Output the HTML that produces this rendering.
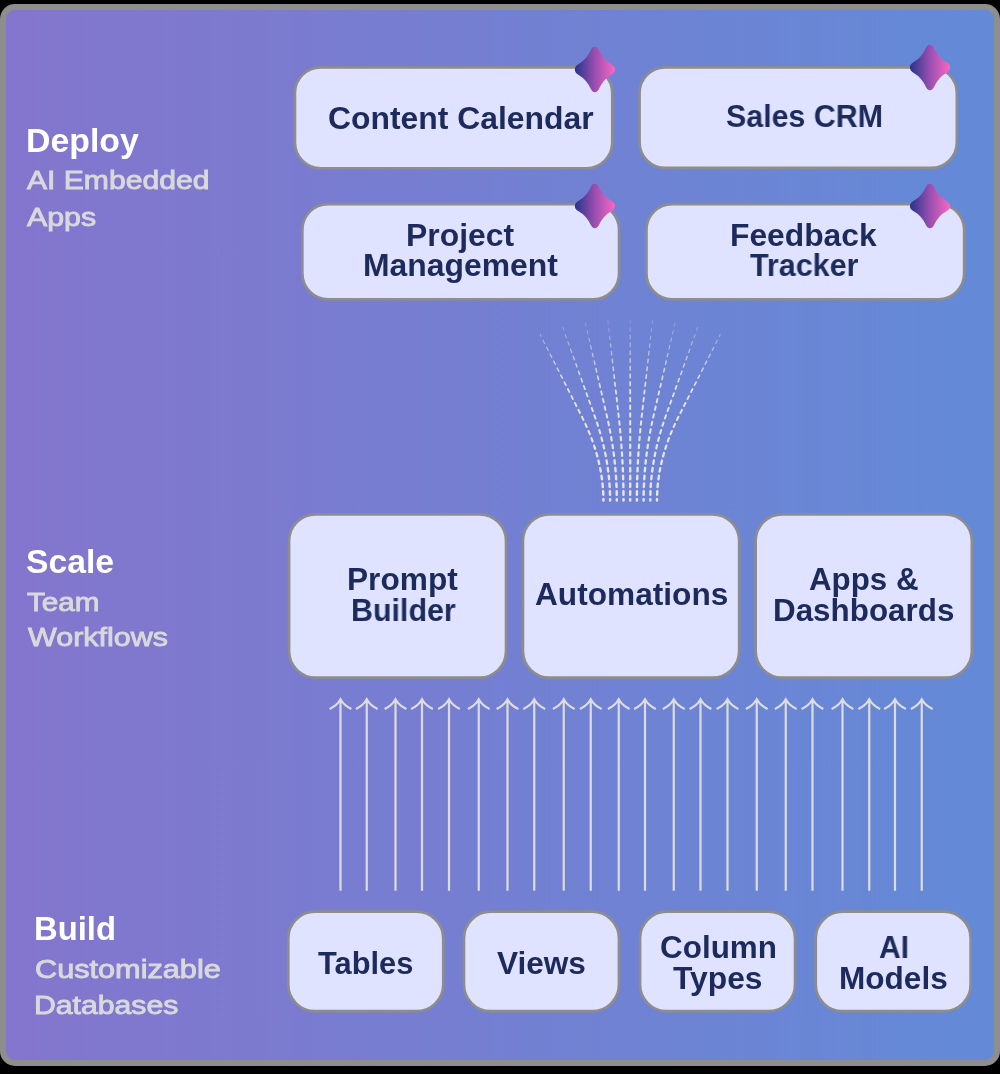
<!DOCTYPE html>
<html><head><meta charset="utf-8"><title>Build Scale Deploy</title>
<style>
html,body{margin:0;padding:0;background:#000;}
body{width:1000px;height:1074px;position:relative;overflow:hidden;font-family:"Liberation Sans",sans-serif;}
#frame{position:absolute;left:0;top:4px;width:1000px;height:1062px;box-sizing:border-box;border:6px solid #8e8e8e;border-radius:15px;background:linear-gradient(90deg,#8475cd 0%,#638ad7 100%);background-clip:border-box;}
#bg{position:absolute;left:6px;top:10px;width:988px;height:1050px;border-radius:11px;background:linear-gradient(90deg,#8475cd 0%,#638ad7 100%);}
.t{position:absolute;will-change:transform;white-space:nowrap;line-height:1;transform-origin:0 0;margin:0;}
svg{position:absolute;left:0;top:0;}
</style></head><body>
<div id="frame"></div><div id="bg"></div>

<svg width="1000" height="1074" viewBox="0 0 1000 1074">
<defs><linearGradient id="sg" gradientUnits="userSpaceOnUse" x1="-20" y1="0" x2="20" y2="0"><stop offset="0" stop-color="#27348b"/><stop offset="0.5" stop-color="#9a4fb0"/><stop offset="1" stop-color="#fa66c3"/></linearGradient></defs>
<g fill="#e0e3ff" stroke="#8d8d8d" stroke-width="2.7">
<rect x="294.95" y="67.35" width="317.30" height="100.90" rx="25.65"/>
<rect x="639.55" y="67.35" width="317.30" height="100.60" rx="25.65"/>
<rect x="302.35" y="204.15" width="316.70" height="95.10" rx="25.65"/>
<rect x="646.45" y="204.15" width="317.70" height="95.10" rx="25.65"/>
<rect x="289.05" y="514.35" width="217.00" height="163.30" rx="26.65"/>
<rect x="522.95" y="514.35" width="216.20" height="163.30" rx="26.65"/>
<rect x="755.65" y="514.35" width="216.20" height="163.30" rx="26.65"/>
<rect x="288.25" y="911.65" width="155.00" height="99.50" rx="26.65"/>
<rect x="463.95" y="911.65" width="155.00" height="99.50" rx="26.65"/>
<rect x="640.05" y="911.65" width="155.00" height="99.50" rx="26.65"/>
<rect x="815.75" y="911.65" width="154.90" height="99.50" rx="26.65"/>
</g>
<g stroke="#e6e4dd" fill="none" stroke-linecap="round">
<line x1="603.40" y1="500.50" x2="603.39" y2="499.10" stroke-width="2.45" stroke-opacity="1.00"/>
<line x1="603.30" y1="494.80" x2="603.13" y2="491.31" stroke-width="2.44" stroke-opacity="1.00"/>
<line x1="602.83" y1="487.02" x2="602.49" y2="483.53" stroke-width="2.41" stroke-opacity="1.00"/>
<line x1="601.98" y1="479.26" x2="601.48" y2="475.80" stroke-width="2.38" stroke-opacity="1.00"/>
<line x1="600.78" y1="471.56" x2="600.12" y2="468.12" stroke-width="2.34" stroke-opacity="1.00"/>
<line x1="599.22" y1="463.91" x2="598.41" y2="460.51" stroke-width="2.30" stroke-opacity="1.00"/>
<line x1="597.33" y1="456.35" x2="596.38" y2="452.98" stroke-width="2.25" stroke-opacity="1.00"/>
<line x1="595.13" y1="448.87" x2="594.04" y2="445.54" stroke-width="2.20" stroke-opacity="1.00"/>
<line x1="592.63" y1="441.48" x2="591.41" y2="438.20" stroke-width="2.14" stroke-opacity="1.00"/>
<line x1="589.84" y1="434.19" x2="588.51" y2="430.96" stroke-width="2.09" stroke-opacity="1.00"/>
<line x1="586.80" y1="427.01" x2="585.35" y2="423.83" stroke-width="2.03" stroke-opacity="1.00"/>
<line x1="583.51" y1="419.94" x2="581.95" y2="416.80" stroke-width="1.97" stroke-opacity="1.00"/>
<line x1="580.01" y1="412.97" x2="578.42" y2="409.85" stroke-width="1.90" stroke-opacity="1.00"/>
<line x1="576.47" y1="406.02" x2="574.89" y2="402.90" stroke-width="1.84" stroke-opacity="1.00"/>
<line x1="572.94" y1="399.06" x2="571.35" y2="395.94" stroke-width="1.77" stroke-opacity="1.00"/>
<line x1="569.41" y1="392.11" x2="567.82" y2="388.99" stroke-width="1.70" stroke-opacity="1.00"/>
<line x1="565.87" y1="385.16" x2="564.29" y2="382.04" stroke-width="1.63" stroke-opacity="0.95"/>
<line x1="562.34" y1="378.20" x2="560.75" y2="375.08" stroke-width="1.56" stroke-opacity="0.89"/>
<line x1="558.80" y1="371.25" x2="557.22" y2="368.13" stroke-width="1.48" stroke-opacity="0.82"/>
<line x1="555.27" y1="364.29" x2="553.68" y2="361.17" stroke-width="1.40" stroke-opacity="0.74"/>
<line x1="551.74" y1="357.34" x2="550.15" y2="354.22" stroke-width="1.32" stroke-opacity="0.67"/>
<line x1="548.20" y1="350.39" x2="546.62" y2="347.27" stroke-width="1.24" stroke-opacity="0.59"/>
<line x1="544.67" y1="343.43" x2="543.08" y2="340.31" stroke-width="1.15" stroke-opacity="0.50"/>
<line x1="541.14" y1="336.48" x2="540.20" y2="334.64" stroke-width="1.07" stroke-opacity="0.42"/>
<line x1="610.10" y1="500.50" x2="610.10" y2="499.10" stroke-width="2.45" stroke-opacity="1.00"/>
<line x1="610.03" y1="494.80" x2="609.91" y2="491.30" stroke-width="2.44" stroke-opacity="1.00"/>
<line x1="609.69" y1="487.01" x2="609.46" y2="483.52" stroke-width="2.41" stroke-opacity="1.00"/>
<line x1="609.09" y1="479.23" x2="608.74" y2="475.75" stroke-width="2.38" stroke-opacity="1.00"/>
<line x1="608.23" y1="471.48" x2="607.76" y2="468.01" stroke-width="2.34" stroke-opacity="1.00"/>
<line x1="607.11" y1="463.76" x2="606.53" y2="460.31" stroke-width="2.30" stroke-opacity="1.00"/>
<line x1="605.75" y1="456.08" x2="605.06" y2="452.65" stroke-width="2.25" stroke-opacity="1.00"/>
<line x1="604.14" y1="448.45" x2="603.35" y2="445.04" stroke-width="2.19" stroke-opacity="1.00"/>
<line x1="602.31" y1="440.87" x2="601.41" y2="437.48" stroke-width="2.14" stroke-opacity="1.00"/>
<line x1="600.25" y1="433.34" x2="599.26" y2="429.99" stroke-width="2.08" stroke-opacity="1.00"/>
<line x1="597.98" y1="425.88" x2="596.89" y2="422.56" stroke-width="2.02" stroke-opacity="1.00"/>
<line x1="595.50" y1="418.49" x2="594.33" y2="415.19" stroke-width="1.95" stroke-opacity="1.00"/>
<line x1="592.87" y1="411.14" x2="591.68" y2="407.85" stroke-width="1.89" stroke-opacity="1.00"/>
<line x1="590.23" y1="403.81" x2="589.04" y2="400.51" stroke-width="1.82" stroke-opacity="1.00"/>
<line x1="587.58" y1="396.47" x2="586.40" y2="393.17" stroke-width="1.74" stroke-opacity="1.00"/>
<line x1="584.94" y1="389.13" x2="583.76" y2="385.84" stroke-width="1.67" stroke-opacity="0.98"/>
<line x1="582.30" y1="381.79" x2="581.11" y2="378.50" stroke-width="1.59" stroke-opacity="0.92"/>
<line x1="579.66" y1="374.45" x2="578.47" y2="371.16" stroke-width="1.51" stroke-opacity="0.85"/>
<line x1="577.01" y1="367.11" x2="575.83" y2="363.82" stroke-width="1.43" stroke-opacity="0.77"/>
<line x1="574.37" y1="359.77" x2="573.19" y2="356.48" stroke-width="1.35" stroke-opacity="0.69"/>
<line x1="571.73" y1="352.43" x2="570.54" y2="349.14" stroke-width="1.26" stroke-opacity="0.61"/>
<line x1="569.09" y1="345.10" x2="567.90" y2="341.80" stroke-width="1.17" stroke-opacity="0.52"/>
<line x1="566.44" y1="337.76" x2="565.26" y2="334.46" stroke-width="1.08" stroke-opacity="0.43"/>
<line x1="563.80" y1="330.42" x2="562.70" y2="327.36" stroke-width="0.99" stroke-opacity="0.34"/>
<line x1="616.80" y1="500.50" x2="616.80" y2="499.10" stroke-width="2.45" stroke-opacity="1.00"/>
<line x1="616.75" y1="494.80" x2="616.68" y2="491.30" stroke-width="2.44" stroke-opacity="1.00"/>
<line x1="616.54" y1="487.00" x2="616.39" y2="483.51" stroke-width="2.41" stroke-opacity="1.00"/>
<line x1="616.15" y1="479.21" x2="615.92" y2="475.72" stroke-width="2.38" stroke-opacity="1.00"/>
<line x1="615.60" y1="471.43" x2="615.29" y2="467.95" stroke-width="2.34" stroke-opacity="1.00"/>
<line x1="614.88" y1="463.67" x2="614.50" y2="460.19" stroke-width="2.29" stroke-opacity="1.00"/>
<line x1="613.99" y1="455.92" x2="613.54" y2="452.45" stroke-width="2.25" stroke-opacity="1.00"/>
<line x1="612.94" y1="448.19" x2="612.42" y2="444.73" stroke-width="2.19" stroke-opacity="1.00"/>
<line x1="611.74" y1="440.48" x2="611.15" y2="437.03" stroke-width="2.14" stroke-opacity="1.00"/>
<line x1="610.38" y1="432.80" x2="609.72" y2="429.36" stroke-width="2.07" stroke-opacity="1.00"/>
<line x1="608.87" y1="425.15" x2="608.15" y2="421.72" stroke-width="2.01" stroke-opacity="1.00"/>
<line x1="607.22" y1="417.53" x2="606.43" y2="414.11" stroke-width="1.94" stroke-opacity="1.00"/>
<line x1="605.47" y1="409.92" x2="604.68" y2="406.51" stroke-width="1.87" stroke-opacity="1.00"/>
<line x1="603.71" y1="402.32" x2="602.92" y2="398.91" stroke-width="1.80" stroke-opacity="1.00"/>
<line x1="601.96" y1="394.72" x2="601.17" y2="391.31" stroke-width="1.73" stroke-opacity="1.00"/>
<line x1="600.20" y1="387.12" x2="599.41" y2="383.71" stroke-width="1.65" stroke-opacity="0.96"/>
<line x1="598.45" y1="379.52" x2="597.66" y2="376.11" stroke-width="1.57" stroke-opacity="0.90"/>
<line x1="596.69" y1="371.92" x2="595.90" y2="368.51" stroke-width="1.48" stroke-opacity="0.82"/>
<line x1="594.94" y1="364.32" x2="594.15" y2="360.91" stroke-width="1.40" stroke-opacity="0.74"/>
<line x1="593.18" y1="356.72" x2="592.39" y2="353.31" stroke-width="1.31" stroke-opacity="0.66"/>
<line x1="591.43" y1="349.12" x2="590.64" y2="345.71" stroke-width="1.22" stroke-opacity="0.57"/>
<line x1="589.67" y1="341.52" x2="588.88" y2="338.11" stroke-width="1.13" stroke-opacity="0.48"/>
<line x1="587.92" y1="333.92" x2="587.13" y2="330.51" stroke-width="1.03" stroke-opacity="0.38"/>
<line x1="586.16" y1="326.33" x2="585.37" y2="322.91" stroke-width="0.94" stroke-opacity="0.29"/>
<line x1="623.50" y1="500.50" x2="623.50" y2="499.10" stroke-width="2.45" stroke-opacity="1.00"/>
<line x1="623.48" y1="494.80" x2="623.44" y2="491.30" stroke-width="2.44" stroke-opacity="1.00"/>
<line x1="623.37" y1="487.00" x2="623.30" y2="483.50" stroke-width="2.41" stroke-opacity="1.00"/>
<line x1="623.18" y1="479.20" x2="623.07" y2="475.70" stroke-width="2.38" stroke-opacity="1.00"/>
<line x1="622.91" y1="471.41" x2="622.76" y2="467.91" stroke-width="2.34" stroke-opacity="1.00"/>
<line x1="622.56" y1="463.62" x2="622.37" y2="460.12" stroke-width="2.29" stroke-opacity="1.00"/>
<line x1="622.12" y1="455.83" x2="621.90" y2="452.34" stroke-width="2.24" stroke-opacity="1.00"/>
<line x1="621.60" y1="448.05" x2="621.35" y2="444.55" stroke-width="2.19" stroke-opacity="1.00"/>
<line x1="621.01" y1="440.27" x2="620.72" y2="436.78" stroke-width="2.13" stroke-opacity="1.00"/>
<line x1="620.33" y1="432.50" x2="620.01" y2="429.01" stroke-width="2.07" stroke-opacity="1.00"/>
<line x1="619.58" y1="424.73" x2="619.22" y2="421.25" stroke-width="2.01" stroke-opacity="1.00"/>
<line x1="618.76" y1="416.98" x2="618.36" y2="413.50" stroke-width="1.94" stroke-opacity="1.00"/>
<line x1="617.88" y1="409.23" x2="617.49" y2="405.75" stroke-width="1.87" stroke-opacity="1.00"/>
<line x1="617.01" y1="401.48" x2="616.61" y2="398.00" stroke-width="1.79" stroke-opacity="1.00"/>
<line x1="616.13" y1="393.73" x2="615.74" y2="390.25" stroke-width="1.72" stroke-opacity="1.00"/>
<line x1="615.26" y1="385.97" x2="614.86" y2="382.50" stroke-width="1.64" stroke-opacity="0.95"/>
<line x1="614.38" y1="378.22" x2="613.99" y2="374.75" stroke-width="1.55" stroke-opacity="0.88"/>
<line x1="613.51" y1="370.47" x2="613.11" y2="367.00" stroke-width="1.47" stroke-opacity="0.81"/>
<line x1="612.63" y1="362.72" x2="612.24" y2="359.24" stroke-width="1.38" stroke-opacity="0.72"/>
<line x1="611.76" y1="354.97" x2="611.36" y2="351.49" stroke-width="1.29" stroke-opacity="0.64"/>
<line x1="610.88" y1="347.22" x2="610.49" y2="343.74" stroke-width="1.20" stroke-opacity="0.55"/>
<line x1="610.01" y1="339.47" x2="609.61" y2="335.99" stroke-width="1.10" stroke-opacity="0.45"/>
<line x1="609.13" y1="331.72" x2="608.74" y2="328.24" stroke-width="1.00" stroke-opacity="0.35"/>
<line x1="608.26" y1="323.97" x2="607.86" y2="320.49" stroke-width="0.91" stroke-opacity="0.26"/>
<line x1="630.20" y1="500.50" x2="630.20" y2="499.10" stroke-width="2.45" stroke-opacity="1.00"/>
<line x1="630.20" y1="494.80" x2="630.20" y2="491.30" stroke-width="2.44" stroke-opacity="1.00"/>
<line x1="630.20" y1="487.00" x2="630.20" y2="483.50" stroke-width="2.41" stroke-opacity="1.00"/>
<line x1="630.20" y1="479.20" x2="630.20" y2="475.70" stroke-width="2.38" stroke-opacity="1.00"/>
<line x1="630.20" y1="471.40" x2="630.20" y2="467.90" stroke-width="2.34" stroke-opacity="1.00"/>
<line x1="630.20" y1="463.60" x2="630.20" y2="460.10" stroke-width="2.29" stroke-opacity="1.00"/>
<line x1="630.20" y1="455.80" x2="630.20" y2="452.30" stroke-width="2.24" stroke-opacity="1.00"/>
<line x1="630.20" y1="448.00" x2="630.20" y2="444.50" stroke-width="2.19" stroke-opacity="1.00"/>
<line x1="630.20" y1="440.20" x2="630.20" y2="436.70" stroke-width="2.13" stroke-opacity="1.00"/>
<line x1="630.20" y1="432.40" x2="630.20" y2="428.90" stroke-width="2.07" stroke-opacity="1.00"/>
<line x1="630.20" y1="424.60" x2="630.20" y2="421.10" stroke-width="2.01" stroke-opacity="1.00"/>
<line x1="630.20" y1="416.80" x2="630.20" y2="413.30" stroke-width="1.94" stroke-opacity="1.00"/>
<line x1="630.20" y1="409.00" x2="630.20" y2="405.50" stroke-width="1.87" stroke-opacity="1.00"/>
<line x1="630.20" y1="401.20" x2="630.20" y2="397.70" stroke-width="1.79" stroke-opacity="1.00"/>
<line x1="630.20" y1="393.40" x2="630.20" y2="389.90" stroke-width="1.71" stroke-opacity="1.00"/>
<line x1="630.20" y1="385.60" x2="630.20" y2="382.10" stroke-width="1.63" stroke-opacity="0.95"/>
<line x1="630.20" y1="377.80" x2="630.20" y2="374.30" stroke-width="1.55" stroke-opacity="0.88"/>
<line x1="630.20" y1="370.00" x2="630.20" y2="366.50" stroke-width="1.46" stroke-opacity="0.80"/>
<line x1="630.20" y1="362.20" x2="630.20" y2="358.70" stroke-width="1.37" stroke-opacity="0.72"/>
<line x1="630.20" y1="354.40" x2="630.20" y2="350.90" stroke-width="1.28" stroke-opacity="0.63"/>
<line x1="630.20" y1="346.60" x2="630.20" y2="343.10" stroke-width="1.19" stroke-opacity="0.54"/>
<line x1="630.20" y1="338.80" x2="630.20" y2="335.30" stroke-width="1.09" stroke-opacity="0.44"/>
<line x1="630.20" y1="331.00" x2="630.20" y2="327.50" stroke-width="1.00" stroke-opacity="0.35"/>
<line x1="630.20" y1="323.20" x2="630.20" y2="319.70" stroke-width="0.90" stroke-opacity="0.25"/>
<line x1="636.90" y1="500.50" x2="636.90" y2="499.10" stroke-width="2.45" stroke-opacity="1.00"/>
<line x1="636.92" y1="494.80" x2="636.96" y2="491.30" stroke-width="2.44" stroke-opacity="1.00"/>
<line x1="637.03" y1="487.00" x2="637.10" y2="483.50" stroke-width="2.41" stroke-opacity="1.00"/>
<line x1="637.22" y1="479.20" x2="637.33" y2="475.70" stroke-width="2.38" stroke-opacity="1.00"/>
<line x1="637.49" y1="471.41" x2="637.64" y2="467.91" stroke-width="2.34" stroke-opacity="1.00"/>
<line x1="637.84" y1="463.62" x2="638.03" y2="460.12" stroke-width="2.29" stroke-opacity="1.00"/>
<line x1="638.28" y1="455.83" x2="638.50" y2="452.34" stroke-width="2.24" stroke-opacity="1.00"/>
<line x1="638.80" y1="448.05" x2="639.05" y2="444.55" stroke-width="2.19" stroke-opacity="1.00"/>
<line x1="639.39" y1="440.27" x2="639.68" y2="436.78" stroke-width="2.13" stroke-opacity="1.00"/>
<line x1="640.07" y1="432.50" x2="640.39" y2="429.01" stroke-width="2.07" stroke-opacity="1.00"/>
<line x1="640.82" y1="424.73" x2="641.18" y2="421.25" stroke-width="2.01" stroke-opacity="1.00"/>
<line x1="641.64" y1="416.98" x2="642.04" y2="413.50" stroke-width="1.94" stroke-opacity="1.00"/>
<line x1="642.52" y1="409.23" x2="642.91" y2="405.75" stroke-width="1.87" stroke-opacity="1.00"/>
<line x1="643.39" y1="401.48" x2="643.79" y2="398.00" stroke-width="1.79" stroke-opacity="1.00"/>
<line x1="644.27" y1="393.73" x2="644.66" y2="390.25" stroke-width="1.72" stroke-opacity="1.00"/>
<line x1="645.14" y1="385.97" x2="645.54" y2="382.50" stroke-width="1.64" stroke-opacity="0.95"/>
<line x1="646.02" y1="378.22" x2="646.41" y2="374.75" stroke-width="1.55" stroke-opacity="0.88"/>
<line x1="646.89" y1="370.47" x2="647.29" y2="367.00" stroke-width="1.47" stroke-opacity="0.81"/>
<line x1="647.77" y1="362.72" x2="648.16" y2="359.24" stroke-width="1.38" stroke-opacity="0.72"/>
<line x1="648.64" y1="354.97" x2="649.04" y2="351.49" stroke-width="1.29" stroke-opacity="0.64"/>
<line x1="649.52" y1="347.22" x2="649.91" y2="343.74" stroke-width="1.20" stroke-opacity="0.55"/>
<line x1="650.39" y1="339.47" x2="650.79" y2="335.99" stroke-width="1.10" stroke-opacity="0.45"/>
<line x1="651.27" y1="331.72" x2="651.66" y2="328.24" stroke-width="1.00" stroke-opacity="0.35"/>
<line x1="652.14" y1="323.97" x2="652.54" y2="320.49" stroke-width="0.91" stroke-opacity="0.26"/>
<line x1="643.60" y1="500.50" x2="643.60" y2="499.10" stroke-width="2.45" stroke-opacity="1.00"/>
<line x1="643.65" y1="494.80" x2="643.72" y2="491.30" stroke-width="2.44" stroke-opacity="1.00"/>
<line x1="643.86" y1="487.00" x2="644.01" y2="483.51" stroke-width="2.41" stroke-opacity="1.00"/>
<line x1="644.25" y1="479.21" x2="644.48" y2="475.72" stroke-width="2.38" stroke-opacity="1.00"/>
<line x1="644.80" y1="471.43" x2="645.11" y2="467.95" stroke-width="2.34" stroke-opacity="1.00"/>
<line x1="645.52" y1="463.67" x2="645.90" y2="460.19" stroke-width="2.29" stroke-opacity="1.00"/>
<line x1="646.41" y1="455.92" x2="646.86" y2="452.45" stroke-width="2.25" stroke-opacity="1.00"/>
<line x1="647.46" y1="448.19" x2="647.98" y2="444.73" stroke-width="2.19" stroke-opacity="1.00"/>
<line x1="648.66" y1="440.48" x2="649.25" y2="437.03" stroke-width="2.14" stroke-opacity="1.00"/>
<line x1="650.02" y1="432.80" x2="650.68" y2="429.36" stroke-width="2.07" stroke-opacity="1.00"/>
<line x1="651.53" y1="425.15" x2="652.25" y2="421.72" stroke-width="2.01" stroke-opacity="1.00"/>
<line x1="653.18" y1="417.53" x2="653.97" y2="414.11" stroke-width="1.94" stroke-opacity="1.00"/>
<line x1="654.93" y1="409.92" x2="655.72" y2="406.51" stroke-width="1.87" stroke-opacity="1.00"/>
<line x1="656.69" y1="402.32" x2="657.48" y2="398.91" stroke-width="1.80" stroke-opacity="1.00"/>
<line x1="658.44" y1="394.72" x2="659.23" y2="391.31" stroke-width="1.73" stroke-opacity="1.00"/>
<line x1="660.20" y1="387.12" x2="660.99" y2="383.71" stroke-width="1.65" stroke-opacity="0.96"/>
<line x1="661.95" y1="379.52" x2="662.74" y2="376.11" stroke-width="1.57" stroke-opacity="0.90"/>
<line x1="663.71" y1="371.92" x2="664.50" y2="368.51" stroke-width="1.48" stroke-opacity="0.82"/>
<line x1="665.46" y1="364.32" x2="666.25" y2="360.91" stroke-width="1.40" stroke-opacity="0.74"/>
<line x1="667.22" y1="356.72" x2="668.01" y2="353.31" stroke-width="1.31" stroke-opacity="0.66"/>
<line x1="668.97" y1="349.12" x2="669.76" y2="345.71" stroke-width="1.22" stroke-opacity="0.57"/>
<line x1="670.73" y1="341.52" x2="671.52" y2="338.11" stroke-width="1.13" stroke-opacity="0.48"/>
<line x1="672.48" y1="333.92" x2="673.27" y2="330.51" stroke-width="1.03" stroke-opacity="0.38"/>
<line x1="674.24" y1="326.33" x2="675.03" y2="322.91" stroke-width="0.94" stroke-opacity="0.29"/>
<line x1="650.30" y1="500.50" x2="650.30" y2="499.10" stroke-width="2.45" stroke-opacity="1.00"/>
<line x1="650.37" y1="494.80" x2="650.49" y2="491.30" stroke-width="2.44" stroke-opacity="1.00"/>
<line x1="650.71" y1="487.01" x2="650.94" y2="483.52" stroke-width="2.41" stroke-opacity="1.00"/>
<line x1="651.31" y1="479.23" x2="651.66" y2="475.75" stroke-width="2.38" stroke-opacity="1.00"/>
<line x1="652.17" y1="471.48" x2="652.64" y2="468.01" stroke-width="2.34" stroke-opacity="1.00"/>
<line x1="653.29" y1="463.76" x2="653.87" y2="460.31" stroke-width="2.30" stroke-opacity="1.00"/>
<line x1="654.65" y1="456.08" x2="655.34" y2="452.65" stroke-width="2.25" stroke-opacity="1.00"/>
<line x1="656.26" y1="448.45" x2="657.05" y2="445.04" stroke-width="2.19" stroke-opacity="1.00"/>
<line x1="658.09" y1="440.87" x2="658.99" y2="437.48" stroke-width="2.14" stroke-opacity="1.00"/>
<line x1="660.15" y1="433.34" x2="661.14" y2="429.99" stroke-width="2.08" stroke-opacity="1.00"/>
<line x1="662.42" y1="425.88" x2="663.51" y2="422.56" stroke-width="2.02" stroke-opacity="1.00"/>
<line x1="664.90" y1="418.49" x2="666.07" y2="415.19" stroke-width="1.95" stroke-opacity="1.00"/>
<line x1="667.53" y1="411.14" x2="668.72" y2="407.85" stroke-width="1.89" stroke-opacity="1.00"/>
<line x1="670.17" y1="403.81" x2="671.36" y2="400.51" stroke-width="1.82" stroke-opacity="1.00"/>
<line x1="672.82" y1="396.47" x2="674.00" y2="393.17" stroke-width="1.74" stroke-opacity="1.00"/>
<line x1="675.46" y1="389.13" x2="676.64" y2="385.84" stroke-width="1.67" stroke-opacity="0.98"/>
<line x1="678.10" y1="381.79" x2="679.29" y2="378.50" stroke-width="1.59" stroke-opacity="0.92"/>
<line x1="680.74" y1="374.45" x2="681.93" y2="371.16" stroke-width="1.51" stroke-opacity="0.85"/>
<line x1="683.39" y1="367.11" x2="684.57" y2="363.82" stroke-width="1.43" stroke-opacity="0.77"/>
<line x1="686.03" y1="359.77" x2="687.21" y2="356.48" stroke-width="1.35" stroke-opacity="0.69"/>
<line x1="688.67" y1="352.43" x2="689.86" y2="349.14" stroke-width="1.26" stroke-opacity="0.61"/>
<line x1="691.31" y1="345.10" x2="692.50" y2="341.80" stroke-width="1.17" stroke-opacity="0.52"/>
<line x1="693.96" y1="337.76" x2="695.14" y2="334.46" stroke-width="1.08" stroke-opacity="0.43"/>
<line x1="696.60" y1="330.42" x2="697.70" y2="327.36" stroke-width="0.99" stroke-opacity="0.34"/>
<line x1="657.00" y1="500.50" x2="657.01" y2="499.10" stroke-width="2.45" stroke-opacity="1.00"/>
<line x1="657.10" y1="494.80" x2="657.27" y2="491.31" stroke-width="2.44" stroke-opacity="1.00"/>
<line x1="657.57" y1="487.02" x2="657.91" y2="483.53" stroke-width="2.41" stroke-opacity="1.00"/>
<line x1="658.42" y1="479.26" x2="658.92" y2="475.80" stroke-width="2.38" stroke-opacity="1.00"/>
<line x1="659.62" y1="471.56" x2="660.28" y2="468.12" stroke-width="2.34" stroke-opacity="1.00"/>
<line x1="661.18" y1="463.91" x2="661.99" y2="460.51" stroke-width="2.30" stroke-opacity="1.00"/>
<line x1="663.07" y1="456.35" x2="664.02" y2="452.98" stroke-width="2.25" stroke-opacity="1.00"/>
<line x1="665.27" y1="448.87" x2="666.36" y2="445.54" stroke-width="2.20" stroke-opacity="1.00"/>
<line x1="667.77" y1="441.48" x2="668.99" y2="438.20" stroke-width="2.14" stroke-opacity="1.00"/>
<line x1="670.56" y1="434.19" x2="671.89" y2="430.96" stroke-width="2.09" stroke-opacity="1.00"/>
<line x1="673.60" y1="427.01" x2="675.05" y2="423.83" stroke-width="2.03" stroke-opacity="1.00"/>
<line x1="676.89" y1="419.94" x2="678.45" y2="416.80" stroke-width="1.97" stroke-opacity="1.00"/>
<line x1="680.39" y1="412.97" x2="681.98" y2="409.85" stroke-width="1.90" stroke-opacity="1.00"/>
<line x1="683.93" y1="406.02" x2="685.51" y2="402.90" stroke-width="1.84" stroke-opacity="1.00"/>
<line x1="687.46" y1="399.06" x2="689.05" y2="395.94" stroke-width="1.77" stroke-opacity="1.00"/>
<line x1="690.99" y1="392.11" x2="692.58" y2="388.99" stroke-width="1.70" stroke-opacity="1.00"/>
<line x1="694.53" y1="385.16" x2="696.11" y2="382.04" stroke-width="1.63" stroke-opacity="0.95"/>
<line x1="698.06" y1="378.20" x2="699.65" y2="375.08" stroke-width="1.56" stroke-opacity="0.89"/>
<line x1="701.60" y1="371.25" x2="703.18" y2="368.13" stroke-width="1.48" stroke-opacity="0.82"/>
<line x1="705.13" y1="364.29" x2="706.72" y2="361.17" stroke-width="1.40" stroke-opacity="0.74"/>
<line x1="708.66" y1="357.34" x2="710.25" y2="354.22" stroke-width="1.32" stroke-opacity="0.67"/>
<line x1="712.20" y1="350.39" x2="713.78" y2="347.27" stroke-width="1.24" stroke-opacity="0.59"/>
<line x1="715.73" y1="343.43" x2="717.32" y2="340.31" stroke-width="1.15" stroke-opacity="0.50"/>
<line x1="719.26" y1="336.48" x2="720.20" y2="334.64" stroke-width="1.07" stroke-opacity="0.42"/>
</g>
<g stroke="#dcdcde" fill="none" stroke-width="2.2" stroke-linecap="butt" stroke-linejoin="miter">
<path d="M340.5,890.8 V700 M329.6,708.9 Q336.9,705.8 340.5,699.3 Q344.1,705.8 351.4,708.9"/>
<path d="M366.75,890.8 V700 M355.85,708.9 Q363.15,705.8 366.75,699.3 Q370.35,705.8 377.65,708.9"/>
<path d="M395.5,890.8 V700 M384.6,708.9 Q391.9,705.8 395.5,699.3 Q399.1,705.8 406.4,708.9"/>
<path d="M422,890.8 V700 M411.1,708.9 Q418.4,705.8 422,699.3 Q425.6,705.8 432.9,708.9"/>
<path d="M449,890.8 V700 M438.1,708.9 Q445.4,705.8 449,699.3 Q452.6,705.8 459.9,708.9"/>
<path d="M478.75,890.8 V700 M467.85,708.9 Q475.15,705.8 478.75,699.3 Q482.35,705.8 489.65,708.9"/>
<path d="M507.5,890.8 V700 M496.6,708.9 Q503.9,705.8 507.5,699.3 Q511.1,705.8 518.4,708.9"/>
<path d="M534.25,890.8 V700 M523.35,708.9 Q530.65,705.8 534.25,699.3 Q537.85,705.8 545.15,708.9"/>
<path d="M563.75,890.8 V700 M552.85,708.9 Q560.15,705.8 563.75,699.3 Q567.35,705.8 574.65,708.9"/>
<path d="M590.75,890.8 V700 M579.85,708.9 Q587.15,705.8 590.75,699.3 Q594.35,705.8 601.65,708.9"/>
<path d="M618.75,890.8 V700 M607.85,708.9 Q615.15,705.8 618.75,699.3 Q622.35,705.8 629.65,708.9"/>
<path d="M645,890.8 V700 M634.1,708.9 Q641.4,705.8 645,699.3 Q648.6,705.8 655.9,708.9"/>
<path d="M673.75,890.8 V700 M662.85,708.9 Q670.15,705.8 673.75,699.3 Q677.35,705.8 684.65,708.9"/>
<path d="M700.5,890.8 V700 M689.6,708.9 Q696.9,705.8 700.5,699.3 Q704.1,705.8 711.4,708.9"/>
<path d="M727.5,890.8 V700 M716.6,708.9 Q723.9,705.8 727.5,699.3 Q731.1,705.8 738.4,708.9"/>
<path d="M756.75,890.8 V700 M745.85,708.9 Q753.15,705.8 756.75,699.3 Q760.35,705.8 767.65,708.9"/>
<path d="M785.75,890.8 V700 M774.85,708.9 Q782.15,705.8 785.75,699.3 Q789.35,705.8 796.65,708.9"/>
<path d="M812.5,890.8 V700 M801.6,708.9 Q808.9,705.8 812.5,699.3 Q816.1,705.8 823.4,708.9"/>
<path d="M842.5,890.8 V700 M831.6,708.9 Q838.9,705.8 842.5,699.3 Q846.1,705.8 853.4,708.9"/>
<path d="M869.25,890.8 V700 M858.35,708.9 Q865.65,705.8 869.25,699.3 Q872.85,705.8 880.15,708.9"/>
<path d="M895,890.8 V700 M884.1,708.9 Q891.4,705.8 895,699.3 Q898.6,705.8 905.9,708.9"/>
<path d="M921.75,890.8 V700 M910.85,708.9 Q918.15,705.8 921.75,699.3 Q925.35,705.8 932.65,708.9"/>
</g>
<g transform="translate(594.9,69.5)"><path d="M0,-18.53 C7.83,-1.41 16.64,-2.73 16.08,0 C16.64,2.73 7.83,1.41 0,18.53 C-7.83,1.41 -16.64,2.73 -16.08,0 C-16.64,-2.73 -7.83,-1.41 0,-18.53 Z" fill="url(#sg)" stroke="url(#sg)" stroke-width="7.94" stroke-linejoin="round"/></g>
<g transform="translate(930,67.5)"><path d="M0,-18.53 C7.83,-1.41 16.64,-2.73 16.08,0 C16.64,2.73 7.83,1.41 0,18.53 C-7.83,1.41 -16.64,2.73 -16.08,0 C-16.64,-2.73 -7.83,-1.41 0,-18.53 Z" fill="url(#sg)" stroke="url(#sg)" stroke-width="7.94" stroke-linejoin="round"/></g>
<g transform="translate(594.9,206) scale(1,0.982)"><path d="M0,-18.53 C7.83,-1.41 16.64,-2.73 16.08,0 C16.64,2.73 7.83,1.41 0,18.53 C-7.83,1.41 -16.64,2.73 -16.08,0 C-16.64,-2.73 -7.83,-1.41 0,-18.53 Z" fill="url(#sg)" stroke="url(#sg)" stroke-width="7.94" stroke-linejoin="round"/></g>
<g transform="translate(930,206) scale(1,0.982)"><path d="M0,-18.53 C7.83,-1.41 16.64,-2.73 16.08,0 C16.64,2.73 7.83,1.41 0,18.53 C-7.83,1.41 -16.64,2.73 -16.08,0 C-16.64,-2.73 -7.83,-1.41 0,-18.53 Z" fill="url(#sg)" stroke="url(#sg)" stroke-width="7.94" stroke-linejoin="round"/></g>
</svg>
<div class="t" style="left:327.97px;top:103.92px;font-size:30.81px;font-weight:bold;color:#1c2a5c;transform:scaleX(1.0348)">Content Calendar</div>
<div class="t" style="left:726.03px;top:102.42px;font-size:30.81px;font-weight:bold;color:#1c2a5c;transform:scaleX(0.9865)">Sales CRM</div>
<div class="t" style="left:406.13px;top:220.72px;font-size:30.81px;font-weight:bold;color:#1c2a5c;transform:scaleX(1.0353)">Project</div>
<div class="t" style="left:362.93px;top:250.82px;font-size:30.81px;font-weight:bold;color:#1c2a5c;transform:scaleX(1.0356)">Management</div>
<div class="t" style="left:729.54px;top:220.72px;font-size:30.81px;font-weight:bold;color:#1c2a5c;transform:scaleX(1.0318)">Feedback</div>
<div class="t" style="left:750.40px;top:250.82px;font-size:30.81px;font-weight:bold;color:#1c2a5c;transform:scaleX(0.9901)">Tracker</div>
<div class="t" style="left:347.15px;top:564.62px;font-size:30.81px;font-weight:bold;color:#1c2a5c;transform:scaleX(1.0274)">Prompt</div>
<div class="t" style="left:350.82px;top:595.82px;font-size:30.81px;font-weight:bold;color:#1c2a5c;transform:scaleX(0.9876)">Builder</div>
<div class="t" style="left:534.60px;top:579.72px;font-size:30.81px;font-weight:bold;color:#1c2a5c;transform:scaleX(1.0274)">Automations</div>
<div class="t" style="left:809.01px;top:564.62px;font-size:30.81px;font-weight:bold;color:#1c2a5c;transform:scaleX(1.0165)">Apps &amp;</div>
<div class="t" style="left:773.36px;top:595.82px;font-size:30.81px;font-weight:bold;color:#1c2a5c;transform:scaleX(1.0190)">Dashboards</div>
<div class="t" style="left:318.00px;top:949.22px;font-size:30.81px;font-weight:bold;color:#1c2a5c;transform:scaleX(1.0010)">Tables</div>
<div class="t" style="left:497.00px;top:949.22px;font-size:30.81px;font-weight:bold;color:#1c2a5c;transform:scaleX(1.0251)">Views</div>
<div class="t" style="left:659.78px;top:933.12px;font-size:30.81px;font-weight:bold;color:#1c2a5c;transform:scaleX(1.0205)">Column</div>
<div class="t" style="left:673.20px;top:963.72px;font-size:30.81px;font-weight:bold;color:#1c2a5c;transform:scaleX(1.0323)">Types</div>
<div class="t" style="left:878.81px;top:933.12px;font-size:30.81px;font-weight:bold;color:#1c2a5c;transform:scaleX(0.9758)">AI</div>
<div class="t" style="left:838.95px;top:963.72px;font-size:30.81px;font-weight:bold;color:#1c2a5c;transform:scaleX(1.0248)">Models</div>
<div class="t" style="left:26.33px;top:125.22px;font-size:32.70px;font-weight:bold;color:#ffffff;transform:scaleX(1.0356)">Deploy</div>
<div class="t" style="left:26.20px;top:545.82px;font-size:32.70px;font-weight:bold;color:#ffffff;transform:scaleX(1.0303)">Scale</div>
<div class="t" style="left:33.99px;top:912.82px;font-size:32.70px;font-weight:bold;color:#ffffff;transform:scaleX(1.0034)">Build</div>
<div class="t" style="left:26.87px;top:167.48px;font-size:26.02px;font-weight:normal;color:#d9d9dc;-webkit-text-stroke:0.9px #d9d9dc;transform:scaleX(1.1569)">AI Embedded</div>
<div class="t" style="left:26.84px;top:203.73px;font-size:26.02px;font-weight:normal;color:#d9d9dc;-webkit-text-stroke:0.9px #d9d9dc;transform:scaleX(1.1665)">Apps</div>
<div class="t" style="left:27.00px;top:588.73px;font-size:26.02px;font-weight:normal;color:#d9d9dc;-webkit-text-stroke:0.9px #d9d9dc;transform:scaleX(1.1407)">Team</div>
<div class="t" style="left:27.72px;top:624.23px;font-size:26.02px;font-weight:normal;color:#d9d9dc;-webkit-text-stroke:0.9px #d9d9dc;transform:scaleX(1.1712)">Workflows</div>
<div class="t" style="left:34.82px;top:955.98px;font-size:26.02px;font-weight:normal;color:#d9d9dc;-webkit-text-stroke:0.9px #d9d9dc;transform:scaleX(1.1785)">Customizable</div>
<div class="t" style="left:33.74px;top:991.73px;font-size:26.02px;font-weight:normal;color:#d9d9dc;-webkit-text-stroke:0.9px #d9d9dc;transform:scaleX(1.1599)">Databases</div>
</body></html>
